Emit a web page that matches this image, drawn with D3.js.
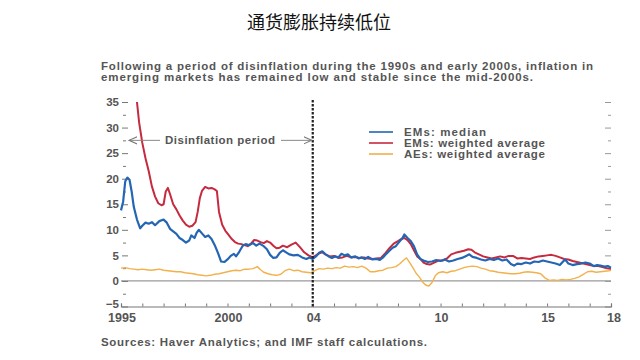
<!DOCTYPE html>
<html><head><meta charset="utf-8">
<script src="https://cdn.jsdelivr.net/npm/d3@7"></script>
<style>
body{margin:0;background:#fff;}
svg{display:block;font-family:"Liberation Sans",Arial,sans-serif;}
</style></head><body>
<svg id="c" width="640" height="360"></svg>
<script>
const title = "通货膨胀持续低位";
const subtitle = ["Following a period of disinflation during the 1990s and early 2000s, inflation in",
                  "emerging markets has remained low and stable since the mid-2000s."];
const source = "Sources: Haver Analytics; and IMF staff calculations.";
const seriesNames = ["EMs: median", "EMs: weighted average", "AEs: weighted average"];
const seriesColors = ["#2466b3", "#c62a3e", "#f2b14c"];
const yTicks = [-5, 0, 5, 10, 15, 20, 25, 30, 35];
const xTickYears = [1995, 2000, 2004, 2010, 2015, 2018];
const xTickLabels = ["1995", "2000", "04", "10", "15", "18"];
const disinflationEnd = 2004;

const emMedian = [[1995.0,13.8],[1995.1,15.5],[1995.2,19.5],[1995.3,20.2],[1995.4,19.8],[1995.5,17.5],[1995.6,14.5],[1995.75,12],[1995.9,10.3],[1996.0,10.8],[1996.15,11.4],[1996.3,11.2],[1996.45,11.5],[1996.6,10.9],[1996.8,11.7],[1997.0,12.0],[1997.15,11.4],[1997.3,10.2],[1997.45,9.7],[1997.6,9.2],[1997.75,8.4],[1997.9,8.0],[1998.05,7.5],[1998.2,7.9],[1998.3,8.9],[1998.45,8.4],[1998.55,9.4],[1998.65,10.0],[1998.8,9.3],[1998.95,8.6],[1999.1,8.9],[1999.25,8.2],[1999.4,7.0],[1999.55,5.5],[1999.7,3.8],[1999.85,3.7],[2000.0,4.2],[2000.15,4.9],[2000.3,5.3],[2000.4,4.8],[2000.55,5.7],[2000.7,6.8],[2000.85,7.2],[2001.0,7.0],[2001.2,7.4],[2001.35,6.9],[2001.5,7.3],[2001.7,6.8],[2001.85,6.2],[2002.0,5.1],[2002.15,4.5],[2002.3,4.6],[2002.45,5.5],[2002.6,6.0],[2002.75,5.6],[2002.9,5.2],[2003.1,5.0],[2003.3,5.1],[2003.5,4.6],[2003.7,4.3],[2003.85,4.6],[2004.0,4.3],[2004.15,4.8],[2004.3,5.5],[2004.45,5.8],[2004.6,5.2],[2004.75,4.8],[2004.9,4.5],[2005.05,4.8],[2005.2,4.6],[2005.35,5.3],[2005.5,5.0],[2005.65,5.2],[2005.8,4.6],[2006.0,4.8],[2006.15,4.4],[2006.3,4.6],[2006.45,4.3],[2006.6,4.7],[2006.8,4.2],[2007.0,4.3],[2007.15,4.1],[2007.3,4.6],[2007.45,5.3],[2007.6,5.9],[2007.75,6.5],[2007.9,6.8],[2008.05,7.6],[2008.2,8.3],[2008.3,9.1],[2008.45,8.4],[2008.6,7.8],[2008.75,6.8],[2008.9,5.2],[2009.05,4.3],[2009.2,4.0],[2009.4,3.7],[2009.6,3.8],[2009.8,4.1],[2010.0,3.9],[2010.2,4.2],[2010.4,3.8],[2010.6,4.0],[2010.8,4.3],[2011.0,4.5],[2011.2,4.9],[2011.35,5.2],[2011.5,4.7],[2011.7,4.5],[2011.9,4.2],[2012.1,4.0],[2012.3,4.3],[2012.5,4.1],[2012.7,4.4],[2012.9,4.0],[2013.1,4.2],[2013.3,3.3],[2013.45,3.0],[2013.6,3.4],[2013.8,3.3],[2014.0,3.6],[2014.2,3.4],[2014.4,3.8],[2014.6,3.7],[2014.8,4.0],[2015.0,3.8],[2015.2,3.6],[2015.4,3.4],[2015.6,3.1],[2015.75,3.8],[2015.85,4.2],[2016.0,3.4],[2016.2,3.1],[2016.4,3.3],[2016.6,3.4],[2016.8,3.6],[2017.0,3.4],[2017.2,2.9],[2017.35,3.1],[2017.5,3.0],[2017.7,2.8],[2017.85,2.9],[2018.0,2.6]];

const emWeighted = [[1995.75,35],[1995.85,31],[1996.0,27],[1996.15,24],[1996.3,21.5],[1996.45,18.5],[1996.6,16.5],[1996.75,15.2],[1996.9,14.8],[1997.0,15.0],[1997.1,17.5],[1997.2,18.2],[1997.3,17.0],[1997.45,15.0],[1997.6,14.0],[1997.75,12.8],[1997.9,11.8],[1998.05,11.0],[1998.2,10.6],[1998.35,10.8],[1998.5,11.5],[1998.6,13.5],[1998.7,16.2],[1998.8,17.6],[1998.95,18.4],[1999.1,18.1],[1999.25,18.2],[1999.4,17.9],[1999.5,17.6],[1999.6,13.5],[1999.75,11.0],[1999.9,9.8],[2000.05,9.0],[2000.2,8.2],[2000.35,7.6],[2000.5,7.3],[2000.65,7.2],[2000.8,7.0],[2000.95,6.8],[2001.1,7.3],[2001.25,8.0],[2001.4,7.9],[2001.55,7.6],[2001.7,7.4],[2001.85,7.8],[2002.0,7.5],[2002.15,6.9],[2002.3,6.4],[2002.45,6.5],[2002.6,6.9],[2002.8,6.6],[2003.0,7.1],[2003.2,7.5],[2003.4,6.6],[2003.6,5.6],[2003.8,5.0],[2004.0,4.6],[2004.15,5.0],[2004.3,5.4],[2004.45,5.6],[2004.6,5.2],[2004.8,4.8],[2005.0,4.9],[2005.2,4.5],[2005.4,4.6],[2005.6,4.9],[2005.8,4.6],[2006.0,4.7],[2006.2,4.5],[2006.4,4.6],[2006.6,4.4],[2006.8,4.3],[2007.0,4.4],[2007.2,4.5],[2007.4,5.4],[2007.6,6.4],[2007.8,7.3],[2008.0,7.8],[2008.15,8.2],[2008.3,8.4],[2008.45,8.0],[2008.6,7.2],[2008.75,6.0],[2008.9,4.8],[2009.05,4.3],[2009.2,3.6],[2009.35,3.3],[2009.5,3.2],[2009.7,3.6],[2009.9,4.0],[2010.1,4.0],[2010.3,4.4],[2010.5,5.2],[2010.7,5.5],[2010.9,5.7],[2011.1,5.9],[2011.3,6.2],[2011.45,6.1],[2011.6,5.6],[2011.8,5.2],[2012.0,4.8],[2012.2,4.6],[2012.4,4.4],[2012.6,4.6],[2012.8,4.8],[2013.0,4.6],[2013.2,4.9],[2013.4,4.9],[2013.6,4.4],[2013.8,4.5],[2014.0,4.4],[2014.2,4.3],[2014.4,4.6],[2014.6,4.8],[2014.8,4.9],[2015.0,5.0],[2015.2,5.1],[2015.4,4.9],[2015.6,4.6],[2015.8,4.3],[2016.0,4.2],[2016.2,3.9],[2016.4,3.7],[2016.6,3.5],[2016.8,3.3],[2017.0,3.1],[2017.2,2.9],[2017.4,2.9],[2017.6,2.7],[2017.8,2.5],[2018.0,2.4]];

const aeWeighted = [[1995.0,2.5],[1995.2,2.6],[1995.4,2.4],[1995.6,2.3],[1995.8,2.2],[1996.0,2.3],[1996.2,2.2],[1996.4,2.1],[1996.6,2.2],[1996.8,2.3],[1997.0,2.1],[1997.2,2.0],[1997.4,1.9],[1997.6,1.8],[1997.8,1.8],[1998.0,1.6],[1998.2,1.5],[1998.4,1.4],[1998.6,1.2],[1998.8,1.1],[1999.0,1.0],[1999.2,1.1],[1999.4,1.3],[1999.6,1.4],[1999.8,1.6],[2000.0,1.8],[2000.2,2.0],[2000.4,2.1],[2000.6,2.0],[2000.8,2.3],[2001.0,2.3],[2001.2,2.4],[2001.4,2.8],[2001.55,2.2],[2001.7,1.7],[2001.9,1.4],[2002.1,1.2],[2002.3,1.1],[2002.5,1.3],[2002.7,2.0],[2002.9,2.3],[2003.1,2.0],[2003.3,2.1],[2003.5,1.8],[2003.7,1.7],[2003.9,1.6],[2004.1,2.0],[2004.3,2.4],[2004.5,2.3],[2004.7,2.5],[2004.9,2.4],[2005.1,2.6],[2005.3,2.5],[2005.5,2.9],[2005.7,2.7],[2005.9,2.8],[2006.1,2.6],[2006.3,2.9],[2006.5,2.5],[2006.7,1.8],[2006.9,1.8],[2007.1,2.0],[2007.3,2.1],[2007.5,2.5],[2007.7,2.6],[2007.9,2.8],[2008.1,3.4],[2008.3,4.2],[2008.4,4.5],[2008.55,3.6],[2008.7,2.6],[2008.85,1.5],[2009.0,0.8],[2009.15,-0.2],[2009.3,-0.8],[2009.45,-1.0],[2009.6,-0.3],[2009.75,1.0],[2009.9,1.6],[2010.1,1.8],[2010.3,1.6],[2010.5,1.9],[2010.7,2.0],[2010.9,2.3],[2011.1,2.6],[2011.3,2.8],[2011.5,2.9],[2011.7,2.8],[2011.9,2.5],[2012.1,2.3],[2012.3,2.0],[2012.5,1.9],[2012.7,1.7],[2012.9,1.6],[2013.1,1.5],[2013.3,1.4],[2013.5,1.4],[2013.7,1.5],[2013.9,1.7],[2014.1,1.8],[2014.3,1.7],[2014.5,1.6],[2014.7,1.4],[2014.9,0.6],[2015.1,0.1],[2015.3,0.2],[2015.5,0.1],[2015.7,0.3],[2015.9,0.2],[2016.1,0.3],[2016.3,0.5],[2016.5,0.8],[2016.7,1.3],[2016.9,1.8],[2017.1,1.9],[2017.3,1.7],[2017.5,1.8],[2017.7,1.9],[2017.9,2.0],[2018.0,2.1]];

const svg = d3.select("#c");
const x = d3.scaleLinear().domain([1995, 2018]).range([121, 611]);
const y = d3.scaleLinear().domain([-5, 35]).range([306.5, 102]);

// title
svg.append("text").attr("x", 319).attr("y", 29).attr("text-anchor", "middle")
  .attr("font-family", "'Noto Sans CJK SC', sans-serif").attr("font-size", 18).attr("fill", "#111").text(title);
const subW = [492, 432];
svg.selectAll(".sub").data(subtitle).enter().append("text")
  .attr("x", 101).attr("y", (d, i) => 69.5 + i * 11.5)
  .attr("font-size", 11.5).attr("font-weight", "bold").attr("fill", "#555")
  .attr("textLength", (d, i) => subW[i]).attr("lengthAdjust", "spacing").text(d => d);
svg.append("text").attr("x", 101).attr("y", 345.5).attr("font-size", 11.5).attr("font-weight", "bold")
  .attr("fill", "#555").attr("textLength", 326).attr("lengthAdjust", "spacing").text(source);

// zero line
svg.append("line").attr("x1", x(1995)).attr("x2", x(2018)).attr("y1", y(0)).attr("y2", y(0))
  .attr("stroke", "#9a9a9a").attr("stroke-width", 1.2);

// y axis left (ticks only)
const major = yTicks, minor = yTicks.slice(0, -1).map(v => v + 2.5);
const axL = svg.append("g").attr("transform", "translate(128,0)");
axL.call(d3.axisLeft(y).tickValues(major).tickSize(6).tickPadding(3).tickFormat(d => d < 0 ? "\u2212" + Math.abs(d) : d));
axL.select(".domain").remove();
axL.selectAll("text").attr("font-size", 11.5).attr("font-weight", "bold").attr("fill", "#555").attr("font-family", "'Liberation Sans',Arial");
axL.selectAll(".tick").filter(d => d === -5).select("text").attr("dy", "0.1em");
axL.selectAll("line").attr("stroke", "#777");
const axLm = svg.append("g").attr("transform", "translate(126,0)");
axLm.call(d3.axisLeft(y).tickValues(minor).tickSize(3).tickFormat(""));
axLm.select(".domain").remove();
axLm.selectAll("line").attr("stroke", "#777");

const axR = svg.append("g").attr("transform", "translate(605,0)");
axR.call(d3.axisRight(y).tickValues(major).tickSize(6).tickFormat(""));
axR.select(".domain").remove();
axR.selectAll("line").attr("stroke", "#999");
const axRm = svg.append("g").attr("transform", "translate(608,0)");
axRm.call(d3.axisRight(y).tickValues(minor).tickSize(3).tickFormat(""));
axRm.select(".domain").remove();
axRm.selectAll("line").attr("stroke", "#999");

// bottom axis
const axB = svg.append("g").attr("transform", `translate(0,${y(-5)})`);
axB.call(d3.axisTop(x).tickValues(d3.range(1995, 2019)).tickSize(3).tickFormat(""));
axB.select(".domain").attr("stroke", "#777").attr("stroke-width", 1.2);
axB.selectAll("line").attr("stroke", "#777");
svg.selectAll(".xl").data(xTickYears).enter().append("text")
  .attr("x", (d, i) => x(d) + (i === xTickYears.length - 1 ? 3 : 1))
  .attr("y", y(-5) + 15).attr("text-anchor", "middle")
  .attr("font-size", 12.5).attr("font-weight", "bold").attr("fill", "#555")
  .text((d, i) => xTickLabels[i]);

// lines
const line = d3.line().x(d => x(d[0])).y(d => y(d[1])).curve(d3.curveLinear);
const all = [emMedian, emWeighted, aeWeighted];
const widths = [2.2, 2.0, 1.4];
[2, 1, 0].forEach(i => {
  svg.append("path").datum(all[i]).attr("d", line).attr("fill", "none")
    .attr("stroke", seriesColors[i]).attr("stroke-width", widths[i]).attr("stroke-linejoin", "round");
});

// dashed vertical line
svg.append("line").attr("x1", x(disinflationEnd)).attr("x2", x(disinflationEnd))
  .attr("y1", y(35) - 2).attr("y2", y(-5)).attr("stroke", "#222").attr("stroke-width", 2.2)
  .attr("stroke-dasharray", "2.5,1.5");

// annotation
const defs = svg.append("defs");
defs.append("marker").attr("id", "arr").attr("viewBox", "0 0 10 10").attr("refX", 9).attr("refY", 5)
  .attr("markerWidth", 9).attr("markerHeight", 9).attr("orient", "auto-start-reverse").attr("markerUnits", "userSpaceOnUse")
  .append("path").attr("d", "M0,1 L9,5 L0,9").attr("fill", "none").attr("stroke", "#777").attr("stroke-width", 1.2);
const ay = y(27.5);
svg.append("line").attr("x1", 160).attr("x2", 129).attr("y1", ay).attr("y2", ay)
  .attr("stroke", "#888").attr("stroke-width", 1).attr("marker-end", "url(#arr)");
svg.append("line").attr("x1", 281).attr("x2", x(disinflationEnd) - 1).attr("y1", ay).attr("y2", ay)
  .attr("stroke", "#888").attr("stroke-width", 1).attr("marker-end", "url(#arr)");
svg.append("text").attr("x", 165).attr("y", ay + 4).attr("font-size", 11.5).attr("font-weight", "bold")
  .attr("fill", "#555").attr("textLength", 110).attr("lengthAdjust", "spacing").text("Disinflation period");

// legend
const legW = [82, 141, 141];
const lg = svg.append("g");
seriesNames.forEach((n, i) => {
  const ly = 132 + i * 11;
  lg.append("line").attr("x1", 369).attr("x2", 393).attr("y1", ly).attr("y2", ly)
    .attr("stroke", seriesColors[i]).attr("stroke-width", 1.6);
  lg.append("text").attr("x", 404).attr("y", ly + 4).attr("font-size", 11.5).attr("font-weight", "bold")
    .attr("fill", "#555").attr("textLength", legW[i]).attr("lengthAdjust", "spacing").text(n);
});
</script>
</body></html>
